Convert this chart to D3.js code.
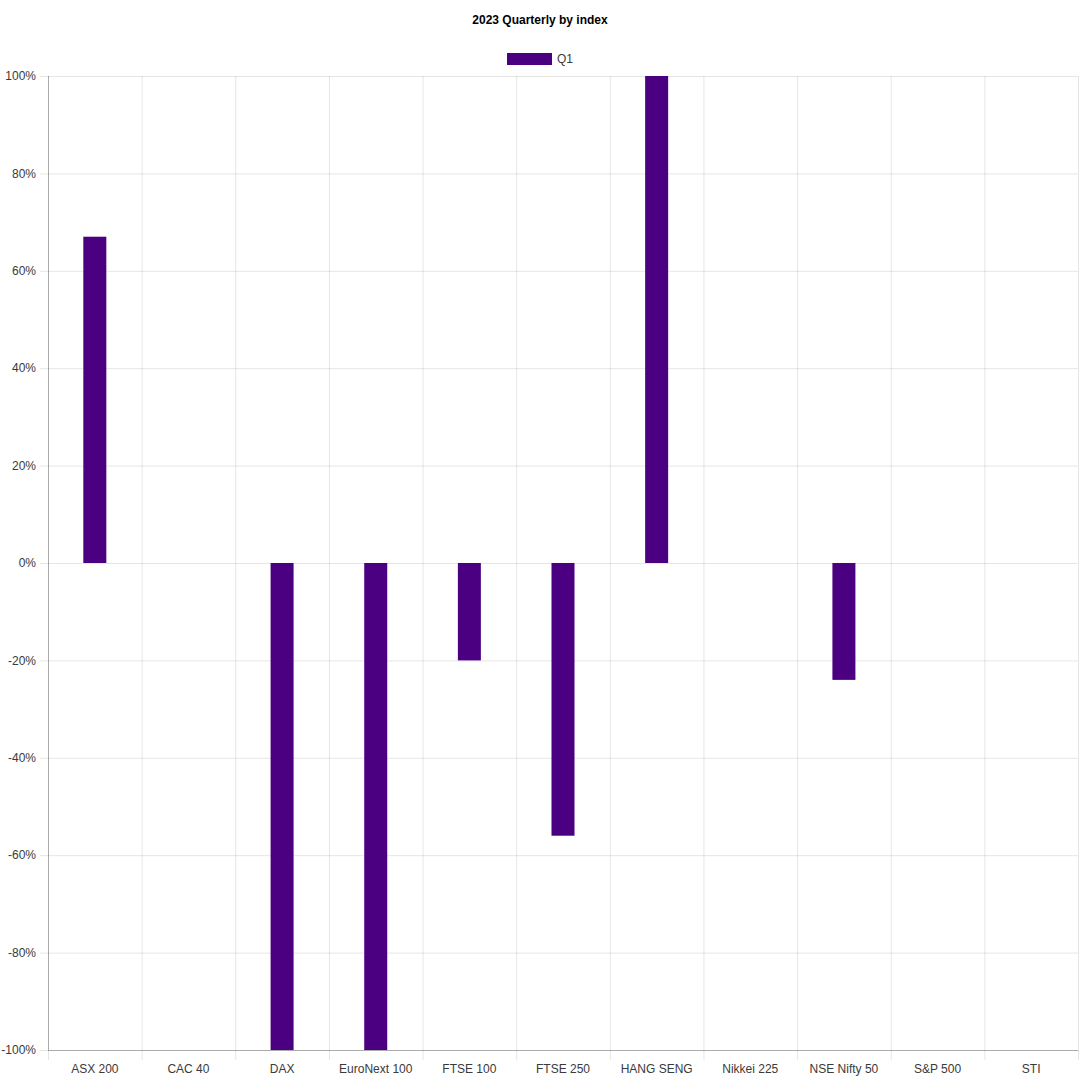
<!DOCTYPE html>
<html><head><meta charset="utf-8">
<script src="https://cdn.jsdelivr.net/npm/d3@7"></script>
<style>body{margin:0;background:#fff}svg{display:block;font-family:"Liberation Sans",Arial,sans-serif}</style>
</head><body>
<svg id="c" width="1080" height="1080"></svg>
<script>
const categories = ["ASX 200","CAC 40","DAX","EuroNext 100","FTSE 100","FTSE 250","HANG SENG","Nikkei 225","NSE Nifty 50","S&P 500","STI"];
const q1Values = [67, 0, -100, -100, -20, -56, 100, 0, -24, 0, 0];
const yTicks = [100, 80, 60, 40, 20, 0, -20, -40, -60, -80, -100];
const seriesName = "Q1";
const title = "2023 Quarterly by index";

const svg = d3.select("#c");
const L = 48, R = 1078, T = 76, B = 1050;
const x = d3.scaleBand().domain(categories).range([L, R]);
const y = d3.scaleLinear().domain([-100, 100]).range([B, T]);
const grid = "rgba(0,0,0,0.1)";
const color = "#4B0082";
const textColor = "#3a3a3a";

// horizontal grid
svg.append("g").selectAll("line").data(yTicks).join("line")
  .attr("x1", L - 8).attr("x2", R).attr("y1", d => y(d)+0.5).attr("y2", d => y(d)+0.5)
  .attr("stroke", grid).attr("stroke-width", 1);
// vertical grid
const xb = categories.map(c => x(c)).concat([R]);
svg.append("g").selectAll("line").data(xb).join("line")
  .attr("x1", d => d+0.5).attr("x2", d => d+0.5).attr("y1", T).attr("y2", B + 10)
  .attr("stroke", grid).attr("stroke-width", 1);
// axis lines
svg.append("line").attr("x1", L+0.5).attr("x2", L+0.5).attr("y1", T).attr("y2", B).attr("stroke","rgba(0,0,0,0.25)");
svg.append("line").attr("x1", L).attr("x2", R).attr("y1", B+0.5).attr("y2", B+0.5).attr("stroke","rgba(0,0,0,0.25)");

// y labels
svg.append("g").selectAll("text").data(yTicks).join("text")
  .attr("x", 36).attr("y", d => y(d)).attr("dy", "0.35em").attr("text-anchor","end")
  .attr("font-size", 12).attr("fill", textColor).text(d => d + "%");
// x labels
svg.append("g").selectAll("text").data(categories).join("text")
  .attr("x", d => x(d) + x.bandwidth()/2).attr("y", 1073).attr("text-anchor","middle")
  .attr("font-size", 12).attr("fill", textColor).text(d => d);

// bars
const bw = 23;
svg.append("g").selectAll("rect").data(categories.map((c,i)=>({c, v:q1Values[i]})).filter(d=>d.v!==0)).join("rect")
  .attr("x", d => x(d.c) + x.bandwidth()/2 - bw/2)
  .attr("width", bw)
  .attr("y", d => y(Math.max(0, d.v)))
  .attr("height", d => Math.abs(y(d.v) - y(0)))
  .attr("fill", color);

// title
svg.append("text").attr("x", 540).attr("y", 24).attr("text-anchor","middle")
  .attr("font-size", 12).attr("font-weight","bold").attr("fill","#000").text(title);
// legend
svg.append("rect").attr("x", 507).attr("y", 53).attr("width", 45).attr("height", 12).attr("fill", color);
svg.append("text").attr("x", 557).attr("y", 59).attr("dy","0.35em").attr("font-size", 12).attr("fill",textColor).text(seriesName);
</script>
</body></html>
